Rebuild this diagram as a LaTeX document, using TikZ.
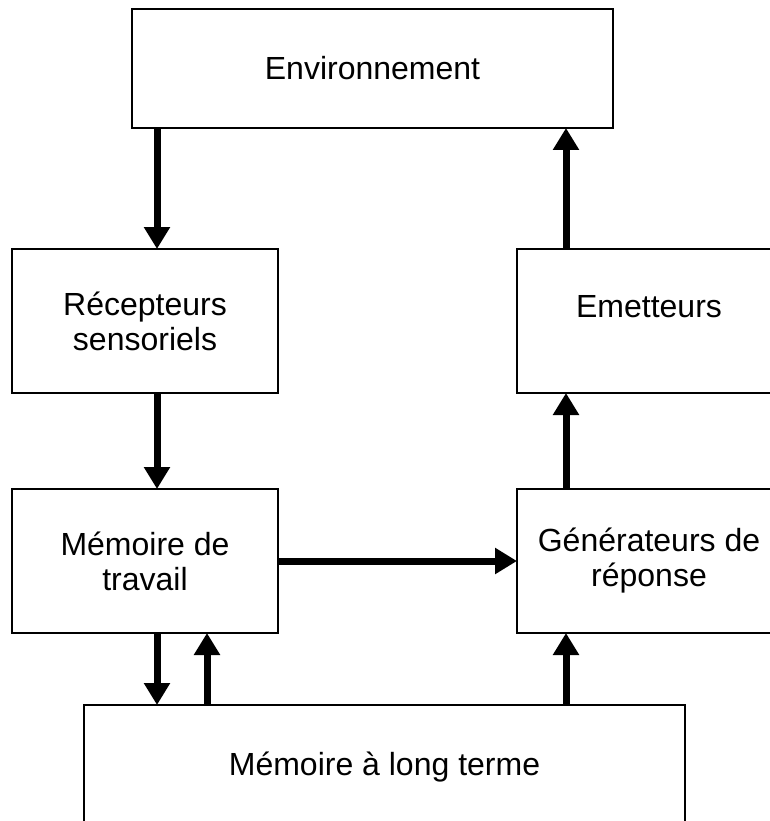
\documentclass[tikz,border=0pt]{standalone}
\usepackage{fontspec}
\setmainfont{Liberation Sans}
\usetikzlibrary{arrows.meta}
\begin{document}
\begin{tikzpicture}[x=1pt,y=-1pt,
  boxnode/.style={draw=black, line width=2pt, fill=white, inner sep=0pt, outer sep=0pt, align=center,
    font=\fontsize{32}{35}\selectfont},
  txt/.style={inner sep=0pt, align=center, font=\fontsize{32}{35}\selectfont},
  flow/.style={line width=7pt, -{Triangle[length=22pt,width=25pt]}}]
\useasboundingbox (0,0) rectangle (770,821);
\clip (0,0) rectangle (770,821);
\fill[white] (0,0) rectangle (770,821);
\node[boxnode, minimum width=481pt, minimum height=119pt] (env) at (372.5,68.5) {Environnement};
\node[boxnode, minimum width=266pt, minimum height=144pt] (rec) at (145,321) {Récepteurs\\sensoriels};
\node[boxnode, minimum width=264pt, minimum height=144pt] (emet) at (649,321) {};
\node[txt] (emettxt) at (649,307) {Emetteurs};
\node[boxnode, minimum width=266pt, minimum height=144pt] (mdt) at (145,561) {Mémoire de\\travail};
\node[boxnode, minimum width=264pt, minimum height=144pt] (gen) at (649,561) {Générateurs de\\réponse};
\node[boxnode, minimum width=601pt, minimum height=124pt] (lt) at (384.5,767) {Mémoire à long terme};
\coordinate (xa) at (157,0);
\coordinate (xb) at (207,0);
\coordinate (xc) at (566,0);
\draw[flow] (env.south -| xa) -- (rec.north -| xa);
\draw[flow] (rec.south -| xa) -- (mdt.north -| xa);
\draw[flow] (mdt.south -| xa) -- (lt.north -| xa);
\draw[flow] (lt.north -| xb) -- (mdt.south -| xb);
\draw[flow] (mdt.east) -- (gen.west);
\draw[flow] (lt.north -| xc) -- (gen.south -| xc);
\draw[flow] (gen.north -| xc) -- (emet.south -| xc);
\draw[flow] (emet.north -| xc) -- (env.south -| xc);
\end{tikzpicture}
\end{document}
